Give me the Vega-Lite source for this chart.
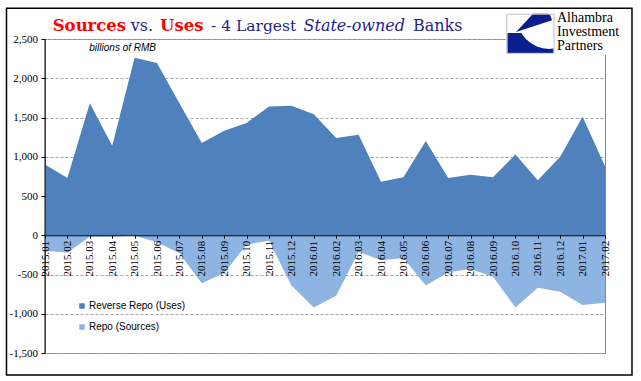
{
  "$schema": "https://vega.github.io/schema/vega-lite/v6.json",
  "width": 560,
  "height": 314,
  "autosize": {"type": "none"},
  "padding": {"left": 45, "top": 39, "right": 36, "bottom": 28},
  "background": "white",
  "config": {"view": {"stroke": "#878787", "strokeWidth": 1}},
  "datasets": {
    "flows": [
      {"month": "2015.01", "series": "Reverse Repo (Uses)", "value": 900},
      {"month": "2015.02", "series": "Reverse Repo (Uses)", "value": 730},
      {"month": "2015.03", "series": "Reverse Repo (Uses)", "value": 1680},
      {"month": "2015.04", "series": "Reverse Repo (Uses)", "value": 1140},
      {"month": "2015.05", "series": "Reverse Repo (Uses)", "value": 2260},
      {"month": "2015.06", "series": "Reverse Repo (Uses)", "value": 2195},
      {"month": "2015.07", "series": "Reverse Repo (Uses)", "value": 1680},
      {"month": "2015.08", "series": "Reverse Repo (Uses)", "value": 1175},
      {"month": "2015.09", "series": "Reverse Repo (Uses)", "value": 1330},
      {"month": "2015.10", "series": "Reverse Repo (Uses)", "value": 1430},
      {"month": "2015.11", "series": "Reverse Repo (Uses)", "value": 1640},
      {"month": "2015.12", "series": "Reverse Repo (Uses)", "value": 1650},
      {"month": "2016.01", "series": "Reverse Repo (Uses)", "value": 1540},
      {"month": "2016.02", "series": "Reverse Repo (Uses)", "value": 1240},
      {"month": "2016.03", "series": "Reverse Repo (Uses)", "value": 1280},
      {"month": "2016.04", "series": "Reverse Repo (Uses)", "value": 680},
      {"month": "2016.05", "series": "Reverse Repo (Uses)", "value": 740},
      {"month": "2016.06", "series": "Reverse Repo (Uses)", "value": 1200},
      {"month": "2016.07", "series": "Reverse Repo (Uses)", "value": 730},
      {"month": "2016.08", "series": "Reverse Repo (Uses)", "value": 770},
      {"month": "2016.09", "series": "Reverse Repo (Uses)", "value": 740},
      {"month": "2016.10", "series": "Reverse Repo (Uses)", "value": 1030},
      {"month": "2016.11", "series": "Reverse Repo (Uses)", "value": 700},
      {"month": "2016.12", "series": "Reverse Repo (Uses)", "value": 1000},
      {"month": "2017.01", "series": "Reverse Repo (Uses)", "value": 1510},
      {"month": "2017.02", "series": "Reverse Repo (Uses)", "value": 880},
      {"month": "2015.01", "series": "Repo (Sources)", "value": -200},
      {"month": "2015.02", "series": "Repo (Sources)", "value": -220},
      {"month": "2015.03", "series": "Repo (Sources)", "value": -20},
      {"month": "2015.04", "series": "Repo (Sources)", "value": -15},
      {"month": "2015.05", "series": "Repo (Sources)", "value": -5},
      {"month": "2015.06", "series": "Repo (Sources)", "value": -90},
      {"month": "2015.07", "series": "Repo (Sources)", "value": -230},
      {"month": "2015.08", "series": "Repo (Sources)", "value": -610},
      {"month": "2015.09", "series": "Repo (Sources)", "value": -480},
      {"month": "2015.10", "series": "Repo (Sources)", "value": -120},
      {"month": "2015.11", "series": "Repo (Sources)", "value": -70},
      {"month": "2015.12", "series": "Repo (Sources)", "value": -640},
      {"month": "2016.01", "series": "Repo (Sources)", "value": -920},
      {"month": "2016.02", "series": "Repo (Sources)", "value": -770},
      {"month": "2016.03", "series": "Repo (Sources)", "value": -210},
      {"month": "2016.04", "series": "Repo (Sources)", "value": -320},
      {"month": "2016.05", "series": "Repo (Sources)", "value": -290},
      {"month": "2016.06", "series": "Repo (Sources)", "value": -640},
      {"month": "2016.07", "series": "Repo (Sources)", "value": -470},
      {"month": "2016.08", "series": "Repo (Sources)", "value": -430},
      {"month": "2016.09", "series": "Repo (Sources)", "value": -530},
      {"month": "2016.10", "series": "Repo (Sources)", "value": -920},
      {"month": "2016.11", "series": "Repo (Sources)", "value": -670},
      {"month": "2016.12", "series": "Repo (Sources)", "value": -720},
      {"month": "2017.01", "series": "Repo (Sources)", "value": -890},
      {"month": "2017.02", "series": "Repo (Sources)", "value": -860}
    ]
  },
  "resolve": {"scale": {"x": "independent"}},
  "layer": [
    {
      "data": {"name": "flows"},
      "mark": {"type": "area", "interpolate": "linear"},
      "encoding": {
        "x": {
          "field": "month", "type": "ordinal",
          "scale": {"type": "point", "padding": 0},
          "axis": {
            "title": null, "orient": "bottom", "offset": -117.75,
            "labelAngle": 270, "labelAlign": "right", "labelBaseline": "middle",
            "labelFont": "Liberation Serif", "labelFontSize": 11, "labelColor": "#000000",
            "labelPadding": 2, "tickSize": 3, "tickColor": "#000000", "domainColor": "#000000",
            "grid": false, "zindex": 1, "labelOverlap": false, "labelBound": false, "labelFlush": false
          }
        },
        "y": {
          "field": "value", "type": "quantitative", "stack": null,
          "scale": {"domain": [-1500, 2500], "nice": false},
          "axis": {
            "title": null,
            "values": [-1500, -1000, -500, 0, 500, 1000, 1500, 2000, 2500],
            "tickCount": 12,
            "labelExpr": "replace(format(datum.value, ','), '−', '-')",
            "labelFont": "Liberation Serif", "labelFontSize": 11, "labelColor": "#000000",
            "tickSize": 4, "tickColor": "#000000", "labelPadding": 3.5,
            "labelOverlap": false, "labelBound": false, "labelFlush": false,
            "domain": false, "grid": true, "gridColor": "#A3A3A3", "gridDash": [3, 2], "zindex": 0
          }
        },
        "color": {
          "field": "series", "type": "nominal",
          "scale": {"domain": ["Reverse Repo (Uses)", "Repo (Sources)"], "range": ["#4F81BD", "#8DB4E2"]},
          "legend": {
            "title": null, "orient": "none", "legendX": 32, "legendY": 262,
            "symbolType": "square", "symbolSize": 30, "symbolStrokeWidth": 0,
            "labelFont": "Liberation Sans", "labelFontSize": 10, "labelColor": "#000000",
            "labelOffset": 2, "rowPadding": 11, "padding": 0
          }
        }
      }
    },
    {
      "data": {"values": [{}]},
      "mark": {"type": "rule", "color": "#000000", "strokeWidth": 1},
      "encoding": {
        "x": {"datum": 0, "type": "quantitative", "scale": {"domain": [0, 25], "nice": false, "zero": false}, "axis": null},
        "y": {"datum": 2500, "type": "quantitative"},
        "y2": {"datum": -1500}
      }
    },
    {
      "data": {"values": [{}]},
      "mark": {"type": "text", "text": "billions of RMB", "font": "Liberation Sans", "fontSize": 10, "fontStyle": "italic", "color": "#000000", "align": "left", "baseline": "alphabetic"},
      "encoding": {
        "x": {"datum": 1.978, "type": "quantitative", "scale": {"domain": [0, 25], "nice": false, "zero": false}, "axis": null},
        "y": {"datum": 2353.5, "type": "quantitative"}
      }
    },
    {
      "data": {"values": [{}]},
      "mark": {"type": "text", "text": "Sources", "font": "DejaVu Serif", "fontSize": 16.5, "fontWeight": "bold", "color": "#FF0000", "align": "left", "baseline": "alphabetic"},
      "encoding": {
        "x": {"datum": 0.344, "type": "quantitative", "scale": {"domain": [0, 25], "nice": false, "zero": false}, "axis": null},
        "y": {"datum": 2602, "type": "quantitative"}
      }
    },
    {
      "data": {"values": [{}]},
      "mark": {"type": "text", "text": "vs.", "font": "DejaVu Serif", "fontSize": 16, "color": "#1F1F8F", "align": "left", "baseline": "alphabetic"},
      "encoding": {
        "x": {"datum": 3.826, "type": "quantitative", "scale": {"domain": [0, 25], "nice": false, "zero": false}, "axis": null},
        "y": {"datum": 2602, "type": "quantitative"}
      }
    },
    {
      "data": {"values": [{}]},
      "mark": {"type": "text", "text": "Uses", "font": "DejaVu Serif", "fontSize": 16.5, "fontWeight": "bold", "color": "#FF0000", "align": "left", "baseline": "alphabetic"},
      "encoding": {
        "x": {"datum": 5.134, "type": "quantitative", "scale": {"domain": [0, 25], "nice": false, "zero": false}, "axis": null},
        "y": {"datum": 2602, "type": "quantitative"}
      }
    },
    {
      "data": {"values": [{}]},
      "mark": {"type": "text", "text": "- 4 Largest", "font": "DejaVu Serif", "fontSize": 15.5, "color": "#1F1F8F", "align": "left", "baseline": "alphabetic"},
      "encoding": {
        "x": {"datum": 7.411, "type": "quantitative", "scale": {"domain": [0, 25], "nice": false, "zero": false}, "axis": null},
        "y": {"datum": 2602, "type": "quantitative"}
      }
    },
    {
      "data": {"values": [{}]},
      "mark": {"type": "text", "text": "State-owned", "font": "DejaVu Serif", "fontSize": 16, "fontStyle": "italic", "color": "#1F1F8F", "align": "left", "baseline": "alphabetic"},
      "encoding": {
        "x": {"datum": 11.54, "type": "quantitative", "scale": {"domain": [0, 25], "nice": false, "zero": false}, "axis": null},
        "y": {"datum": 2602, "type": "quantitative"}
      }
    },
    {
      "data": {"values": [{}]},
      "mark": {"type": "text", "text": "Banks", "font": "DejaVu Serif", "fontSize": 16, "color": "#1F1F8F", "align": "left", "baseline": "alphabetic"},
      "encoding": {
        "x": {"datum": 16.429, "type": "quantitative", "scale": {"domain": [0, 25], "nice": false, "zero": false}, "axis": null},
        "y": {"datum": 2602, "type": "quantitative"}
      }
    },
    {
      "data": {"values": [{}]},
      "mark": {"type": "rect", "color": "#FFFFFF", "opacity": 1},
      "encoding": {
        "x": {"datum": 20.558, "type": "quantitative", "scale": {"domain": [0, 25], "nice": false, "zero": false}, "axis": null},
        "x2": {"datum": 25.313},
        "y": {"datum": 2844, "type": "quantitative"},
        "y2": {"datum": 2302}
      }
    },
    {
      "data": {"values": [{}]},
      "mark": {"type": "rect", "color": "#0A1F8F", "opacity": 1},
      "encoding": {
        "x": {"datum": 20.647, "type": "quantitative", "scale": {"domain": [0, 25], "nice": false, "zero": false}, "axis": null},
        "x2": {"datum": 22.701},
        "y": {"datum": 2576, "type": "quantitative"},
        "y2": {"datum": 2322}
      }
    },
    {
      "data": {"values": [{}]},
      "mark": {"type": "point", "shape": "circle", "filled": true, "size": 4072, "color": "#FFFFFF", "opacity": 1, "strokeWidth": 0},
      "encoding": {
        "x": {"datum": 22.5, "type": "quantitative", "scale": {"domain": [0, 25], "nice": false, "zero": false}, "axis": null},
        "y": {"datum": 2780, "type": "quantitative"}
      }
    },
    {
      "data": {"values": [{}]},
      "mark": {"type": "arc", "radius": 38, "theta": 0.75, "theta2": 1.257, "color": "#0A1F8F", "opacity": 1},
      "encoding": {
        "x": {"datum": 21.027, "type": "quantitative", "scale": {"domain": [0, 25], "nice": false, "zero": false}, "axis": null},
        "y": {"datum": 2589, "type": "quantitative"}
      }
    },
    {
      "data": {"values": [{}]},
      "mark": {"type": "rect", "color": "#FFFFFF", "opacity": 1},
      "encoding": {
        "x": {"datum": 20.5, "type": "quantitative", "scale": {"domain": [0, 25], "nice": false, "zero": false}, "axis": null},
        "x2": {"datum": 22.8},
        "y": {"datum": 2997, "type": "quantitative"},
        "y2": {"datum": 2821}
      }
    },
    {
      "data": {"values": [{}]},
      "mark": {"type": "rect", "color": "#FFFFFF", "opacity": 1},
      "encoding": {
        "x": {"datum": 22.723, "type": "quantitative", "scale": {"domain": [0, 25], "nice": false, "zero": false}, "axis": null},
        "x2": {"datum": 22.835},
        "y": {"datum": 2869, "type": "quantitative"},
        "y2": {"datum": 2309}
      }
    },
    {
      "data": {"values": [{}]},
      "mark": {"type": "rect", "filled": false, "stroke": "#BFBFBF", "strokeWidth": 1},
      "encoding": {
        "x": {"datum": 20.612, "type": "quantitative", "scale": {"domain": [0, 25], "nice": false, "zero": false}, "axis": null},
        "x2": {"datum": 22.723},
        "y": {"datum": 2814.7, "type": "quantitative"},
        "y2": {"datum": 2317.8}
      }
    },
    {
      "data": {"values": [{}]},
      "mark": {"type": "text", "text": "Alhambra", "font": "Liberation Serif", "fontSize": 14, "color": "#000000", "align": "left", "baseline": "alphabetic"},
      "encoding": {
        "x": {"datum": 22.857, "type": "quantitative", "scale": {"domain": [0, 25], "nice": false, "zero": false}, "axis": null},
        "y": {"datum": 2713, "type": "quantitative"}
      }
    },
    {
      "data": {"values": [{}]},
      "mark": {"type": "text", "text": "Investment", "font": "Liberation Serif", "fontSize": 14, "color": "#000000", "align": "left", "baseline": "alphabetic"},
      "encoding": {
        "x": {"datum": 22.857, "type": "quantitative", "scale": {"domain": [0, 25], "nice": false, "zero": false}, "axis": null},
        "y": {"datum": 2536, "type": "quantitative"}
      }
    },
    {
      "data": {"values": [{}]},
      "mark": {"type": "text", "text": "Partners", "font": "Liberation Serif", "fontSize": 14, "color": "#000000", "align": "left", "baseline": "alphabetic"},
      "encoding": {
        "x": {"datum": 22.857, "type": "quantitative", "scale": {"domain": [0, 25], "nice": false, "zero": false}, "axis": null},
        "y": {"datum": 2360, "type": "quantitative"}
      }
    },
    {
      "data": {"values": [{}]},
      "mark": {"type": "rect", "filled": false, "stroke": "#000000", "strokeWidth": 1.5},
      "encoding": {
        "x": {"datum": -1.719, "type": "quantitative", "scale": {"domain": [0, 25], "nice": false, "zero": false}, "axis": null},
        "x2": {"datum": 26.205},
        "y": {"datum": 2891, "type": "quantitative"},
        "y2": {"datum": -1780}
      }
    }
  ]
}
